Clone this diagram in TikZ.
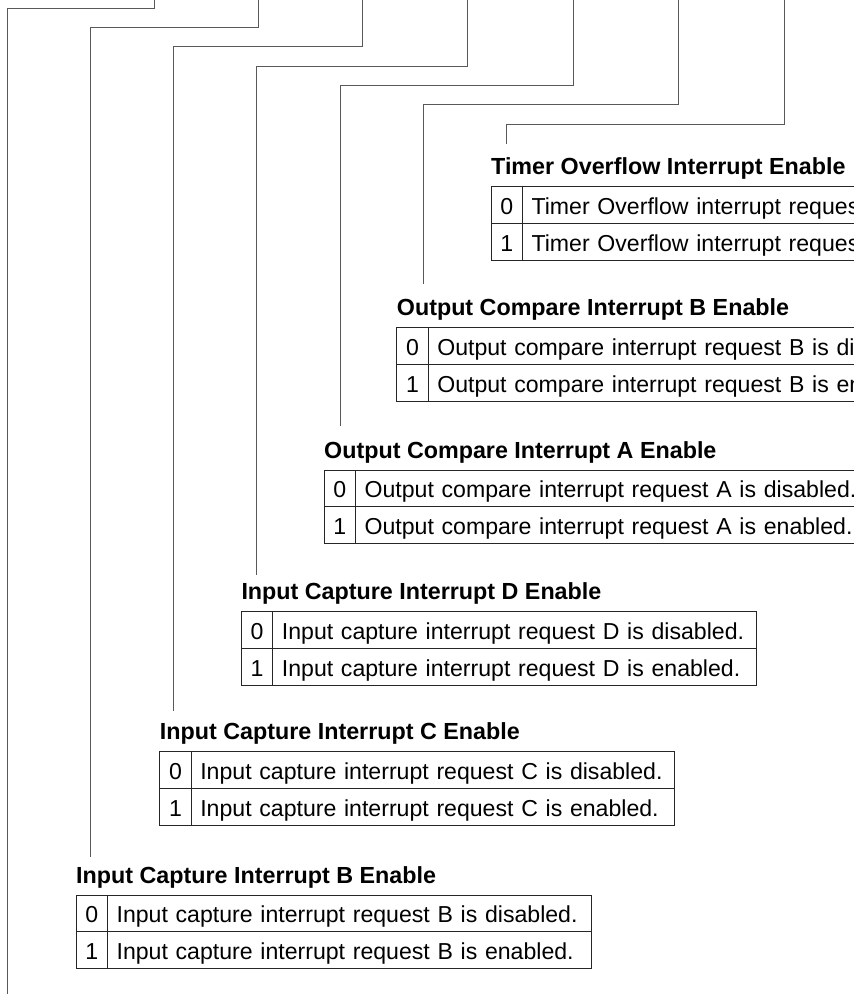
\documentclass[tikz,border=0pt]{standalone}
\usepackage{fontspec}
\setmainfont{Liberation Sans}
\usetikzlibrary{positioning}

\begin{document}
\begin{tikzpicture}[x=1pt, y=-1pt,
    font=\fontsize{23.1}{28}\selectfont,
    bitline/.style={draw=black!65, line width=1pt},
    bitval/.style={rectangle, draw=black!85, line width=0.9pt, outer sep=0pt, inner sep=0pt,
                   minimum width=31.6pt, minimum height=36.7pt, text height=22pt, text depth=3.5pt},
    bitdesc/.style={rectangle, draw=black!85, line width=0.9pt, outer sep=0pt, inner xsep=9pt,
                    inner ysep=0pt, minimum height=36.7pt, text height=22pt, text depth=3.5pt,
                    text width=#1, align=left},
    bitdesc/.default=465.4pt,
    fieldname/.style={anchor=base west, inner sep=0pt, font=\fontsize{23.3}{28}\selectfont\bfseries},
  ]
    \useasboundingbox (0,0) rectangle (854,994);
    \clip (0,0) rectangle (854,994);

    % Timer overflow
    \node[bitval, anchor=north west] (tov0) at (491,186.7) {0};
    \node[bitdesc=520pt, right=0pt of tov0] (tov0t) {\mbox{Timer Overflow interrupt request is disabled.}};
    \node[bitval, below=0pt of tov0] (tov1) {1};
    \node[bitdesc=520pt, right=0pt of tov1] (tov1t) {\mbox{Timer Overflow interrupt request is enabled.}};
    \node[fieldname] (tovh) at ([yshift=12pt]tov0.north west) {Timer Overflow Interrupt Enable};

    % Output compare B
    \node[bitval, anchor=north west] (ocb0) at (396.7,327.7) {0};
    \node[bitdesc=520pt, right=0pt of ocb0] (ocb0t) {\mbox{Output compare interrupt request B is disabled.}};
    \node[bitval, below=0pt of ocb0] (ocb1) {1};
    \node[bitdesc=520pt, right=0pt of ocb1] (ocb1t) {\mbox{Output compare interrupt request B is enabled.}};
    \node[fieldname] (ocbh) at ([yshift=12pt]ocb0.north west) {Output Compare Interrupt B Enable};

    % Output compare A
    \node[bitval, anchor=north west] (oca0) at (324,470) {0};
    \node[bitdesc=520pt, right=0pt of oca0] (oca0t) {\mbox{Output compare interrupt request A is disabled.}};
    \node[bitval, below=0pt of oca0] (oca1) {1};
    \node[bitdesc=520pt, right=0pt of oca1] (oca1t) {\mbox{Output compare interrupt request A is enabled.}};
    \node[fieldname] (ocah) at ([yshift=12pt]oca0.north west) {Output Compare Interrupt A Enable};

    % Input capture D
    \node[bitval, anchor=north west] (icd0) at (241.3,611.7) {0};
    \node[bitdesc, right=0pt of icd0] (icd0t) {\mbox{Input capture interrupt request D is disabled.}};
    \node[bitval, below=0pt of icd0] (icd1) {1};
    \node[bitdesc, right=0pt of icd1] (icd1t) {\mbox{Input capture interrupt request D is enabled.}};
    \node[fieldname] (icdh) at ([yshift=12pt]icd0.north west) {Input Capture Interrupt D Enable};

    % Input capture C
    \node[bitval, anchor=north west] (icc0) at (159.7,751.7) {0};
    \node[bitdesc, right=0pt of icc0] (icc0t) {\mbox{Input capture interrupt request C is disabled.}};
    \node[bitval, below=0pt of icc0] (icc1) {1};
    \node[bitdesc, right=0pt of icc1] (icc1t) {\mbox{Input capture interrupt request C is enabled.}};
    \node[fieldname] (icch) at ([yshift=12pt]icc0.north west) {Input Capture Interrupt C Enable};

    % Input capture B
    \node[bitval, anchor=north west] (icb0) at (76,895) {0};
    \node[bitdesc, right=0pt of icb0] (icb0t) {\mbox{Input capture interrupt request B is disabled.}};
    \node[bitval, below=0pt of icb0] (icb1) {1};
    \node[bitdesc, right=0pt of icb1] (icb1t) {\mbox{Input capture interrupt request B is enabled.}};
    \node[fieldname] (icbh) at ([yshift=12pt]icb0.north west) {Input Capture Interrupt B Enable};

    % bit leads
    \coordinate (src1) at (154,0);   \coordinate (end1) at (7.7,1000);
    \coordinate (src2) at (258,0);   \coordinate (end2) at (90.7,856.7);
    \coordinate (src3) at (362,0);   \coordinate (end3) at (173.7,710.7);
    \coordinate (src4) at (467,0);   \coordinate (end4) at (256.7,575);
    \coordinate (src5) at (573,0);   \coordinate (end5) at (340,426);
    \coordinate (src6) at (678,0);   \coordinate (end6) at (423,284);
    \coordinate (src7) at (784,0);   \coordinate (end7) at (506,144);

    \draw[bitline] (src1) -- ++(0,8) -| (end1);
    \draw[bitline] (src2) -- ++(0,27) -| (end2);
    \draw[bitline] (src3) -- ++(0,46.7) -| (end3);
    \draw[bitline] (src4) -- ++(0,66.3) -| (end4);
    \draw[bitline] (src5) -- ++(0,85.7) -| (end5);
    \draw[bitline] (src6) -- ++(0,104.7) -| (end6);
    \draw[bitline] (src7) -- ++(0,124.3) -| (end7);
\end{tikzpicture}
\end{document}
